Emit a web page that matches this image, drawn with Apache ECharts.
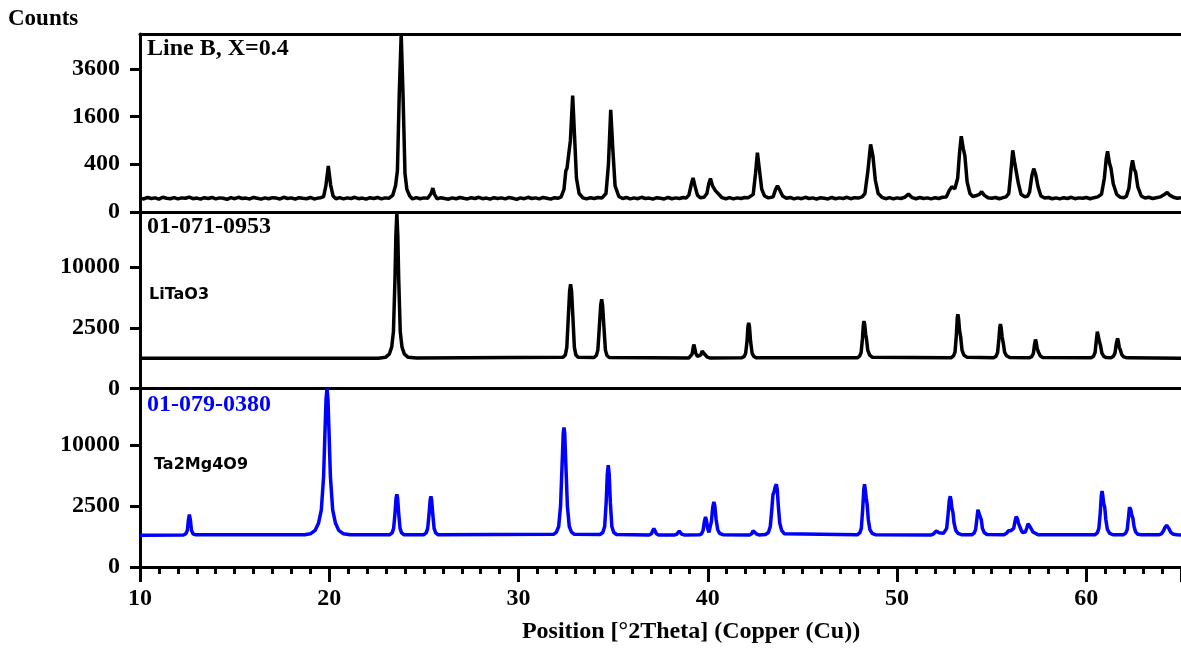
<!DOCTYPE html>
<html>
<head>
<meta charset="utf-8">
<title>XRD pattern – Line B, X=0.4</title>
<script src="https://cdn.jsdelivr.net/npm/echarts@6/dist/echarts.min.js"></script>
<style>
  html, body { margin: 0; padding: 0; background: #fff; }
  #chart { width: 1181px; height: 648px; }
</style>
</head>
<body>
<div id="chart"></div>
<script>
// Measured scan, [2theta, counts]
const measuredScan = [
  [10.0,34],[10.2,30],[10.4,37],[10.6,32],[10.8,35],[11.0,29],[11.2,38],[11.4,33],[11.6,31],[11.8,36],
  [12.0,30],[12.2,35],[12.4,33],[12.6,39],[12.8,31],[13.0,34],[13.2,29],[13.4,36],[13.6,32],[13.8,37],
  [14.0,30],[14.2,35],[14.4,33],[14.6,28],[14.8,36],[15.0,31],[15.2,38],[15.4,32],[15.6,34],[15.8,30],
  [16.0,37],[16.2,33],[16.4,29],[16.6,35],[16.8,31],[17.0,36],[17.2,34],[17.4,30],[17.6,38],[17.8,32],
  [18.0,35],[18.2,29],[18.4,36],[18.6,33],[18.8,31],[19.0,37],[19.2,30],[19.4,34],[19.55,36],
  [19.7,42],[19.82,120],[19.95,372],[20.07,130],[20.2,45],
  [20.35,31],[20.55,36],[20.75,30],[20.95,35],[21.15,32],[21.35,38],[21.55,31],[21.75,34],[21.95,29],[22.15,36],
  [22.35,32],[22.55,37],[22.75,30],[22.95,35],[23.15,33],
  [23.35,48],[23.5,120],[23.6,300],[23.7,2500],[23.8,5560],[23.9,2300],[24.0,260],[24.1,90],[24.25,45],
  [24.4,30],[24.6,36],[24.8,31],[25.0,35],[25.2,33],
  [25.38,60],[25.47,100],[25.56,55],
  [25.7,30],[25.9,36],[26.1,32],[26.3,29],[26.5,35],[26.7,31],[26.9,37],[27.1,33],[27.3,30],[27.5,36],
  [27.7,32],[27.9,38],[28.1,31],[28.3,34],[28.5,29],[28.7,36],[28.9,32],[29.1,35],[29.3,30],[29.5,37],
  [29.7,33],[29.9,28],[30.1,35],[30.3,31],[30.5,38],[30.7,32],[30.9,35],[31.1,30],[31.3,37],[31.5,33],
  [31.7,29],[31.9,36],[32.1,33],[32.25,40],
  [32.4,90],[32.5,300],[32.56,336],[32.64,340],[32.74,900],[32.86,2377],[32.96,1000],[33.06,200],[33.2,60],
  [33.4,35],[33.6,30],[33.8,36],[34.0,32],[34.2,37],[34.4,34],
  [34.62,60],[34.75,400],[34.87,1831],[34.98,700],[35.1,120],[35.3,42],
  [35.5,32],[35.7,37],[35.9,30],[36.1,35],[36.3,31],[36.5,38],[36.7,32],[36.9,34],[37.1,29],[37.3,36],
  [37.5,33],[37.7,30],[37.9,37],[38.1,31],[38.3,35],[38.5,32],[38.7,37],[38.85,34],
  [39.0,50],[39.12,130],[39.22,204],[39.32,120],[39.45,50],[39.6,36],[39.8,38],[39.95,60],
  [40.05,140],[40.14,197],[40.25,120],[40.4,80],[40.47,84],[40.58,55],[40.75,36],
  [40.95,31],[41.15,36],[41.35,30],[41.55,35],[41.75,32],[41.95,37],[42.15,36],
  [42.4,55],[42.52,260],[42.62,619],[42.72,330],[42.85,90],[43.0,45],[43.2,35],[43.45,40],
  [43.58,90],[43.68,120],[43.8,85],[43.95,45],
  [44.15,33],[44.35,37],[44.55,30],[44.75,35],[44.95,31],[45.15,38],[45.35,32],[45.55,35],[45.75,29],[45.95,36],
  [46.15,33],[46.35,30],[46.55,37],[46.75,31],[46.95,35],[47.15,32],[47.35,38],[47.55,31],[47.75,36],[47.95,34],
  [48.15,40],
  [48.3,60],[48.45,280],[48.6,803],[48.72,560],[48.85,180],[49.0,60],[49.2,38],
  [49.4,31],[49.6,36],[49.8,30],[50.0,35],[50.2,32],[50.4,38],[50.6,56],[50.8,36],[51.0,31],[51.2,37],
  [51.4,32],[51.6,35],[51.8,30],[52.0,36],[52.2,32],[52.4,38],[52.6,40],
  [52.75,80],[52.89,111],[53.05,95],
  [53.2,200],[53.3,620],[53.39,1010],[53.5,700],[53.58,560],[53.7,160],[53.85,60],
  [54.0,42],[54.15,46],[54.35,55],[54.47,72],[54.6,50],[54.8,36],
  [55.0,33],[55.2,37],[55.4,31],[55.6,36],[55.75,40],
  [55.9,60],[56.0,250],[56.11,667],[56.2,450],[56.28,417],[56.4,150],[56.55,55],[56.75,40],[56.9,45],
  [57.0,70],[57.12,230],[57.22,331],[57.32,250],[57.45,110],[57.6,45],[57.8,34],
  [58.0,37],[58.2,31],[58.4,35],[58.6,30],[58.8,36],[59.0,32],[59.2,38],[59.4,31],[59.6,35],[59.8,33],
  [60.0,37],[60.2,31],[60.4,36],[60.6,40],
  [60.8,55],[60.95,200],[61.05,500],[61.12,646],[61.22,420],[61.3,336],[61.42,140],[61.6,55],[61.8,38],[62.0,36],
  [62.12,45],[62.25,100],[62.36,330],[62.44,469],[62.53,320],[62.6,282],[62.72,110],[62.9,45],
  [63.1,34],[63.3,38],[63.5,32],[63.7,36],[63.9,40],
  [64.1,52],[64.27,67],[64.4,50],[64.6,38],[64.8,33],[65.0,36]
];

// Reference pattern 01-071-0953 (LiTaO3), [2theta, counts]
const litao3Pattern = [
  [10.0,620],[22.6,625],[22.97,660],[23.17,800],[23.3,1180],[23.39,2200],[23.47,8000],[23.52,16000],[23.57,20900],
  [23.62,16000],[23.67,8000],[23.75,2200],[23.84,1180],[23.97,800],[24.17,660],[24.6,630],
  [32.35,660],[32.47,760],[32.55,1150],[32.63,3500],[32.7,6500],[32.75,7390],[32.8,6500],[32.87,3500],[32.95,1150],[33.03,760],[33.15,660],
  [33.99,655],[34.11,740],[34.19,1000],[34.27,2600],[34.34,4700],[34.39,5420],[34.44,4700],[34.51,2600],[34.59,1000],[34.67,740],[34.79,655],
  [39.0,635],[39.1,680],[39.17,800],[39.22,1100],[39.26,1316],[39.3,1150],[39.37,830],[39.45,700],[39.55,690],
  [39.63,770],[39.7,950],[39.75,1034],[39.8,930],[39.87,760],[39.97,670],[40.1,635],
  [41.8,640],[41.92,700],[42.0,850],[42.07,1500],[42.12,2600],[42.16,2920],[42.2,2600],[42.26,1500],[42.34,850],[42.42,710],[42.55,645],
  [47.9,640],[48.02,710],[48.1,880],[48.17,1700],[48.22,2800],[48.25,3080],[48.29,2800],[48.34,2000],[48.39,1600],[48.45,1000],[48.55,760],[48.7,660],
  [52.85,640],[52.98,720],[53.06,900],[53.13,1900],[53.18,3400],[53.21,3750],[53.25,3300],[53.3,2300],[53.36,1800],[53.43,1000],[53.53,760],[53.7,660],
  [55.1,640],[55.23,710],[55.31,880],[55.38,1700],[55.43,2600],[55.46,2810],[55.5,2500],[55.55,1800],[55.61,1400],[55.68,900],[55.78,730],[55.95,650],
  [57.0,640],[57.12,700],[57.2,830],[57.26,1300],[57.31,1630],[57.35,1450],[57.41,1050],[57.48,880],[57.56,730],[57.7,650],
  [60.25,640],[60.38,710],[60.46,880],[60.53,1600],[60.58,2200],[60.6,2310],[60.64,2050],[60.69,1500],[60.75,1250],[60.82,850],[60.92,700],[61.05,650],
  [61.3,645],[61.43,710],[61.51,850],[61.58,1350],[61.65,1700],[61.69,1500],[61.74,1150],[61.8,1000],[61.87,780],[61.97,680],[62.15,640],
  [65.0,620]
];

// Reference pattern 01-079-0380 (Ta2Mg4O9), [2theta, counts]
const ta2mg4o9Pattern = [
  [10.0,680],[12.3,690],[12.42,740],[12.5,900],[12.56,1500],[12.61,1845],[12.66,1500],[12.72,900],[12.8,740],[12.95,695],
  [18.7,695],[19.0,740],[19.25,900],[19.43,1280],[19.58,2200],[19.7,5500],[19.78,13000],[19.83,19000],[19.88,21400],
  [19.93,19000],[19.98,13000],[20.06,5500],[20.18,2200],[20.33,1280],[20.5,900],[20.75,740],[21.1,695],
  [23.2,700],[23.32,780],[23.4,1000],[23.47,1900],[23.53,3200],[23.57,3550],[23.61,3200],[23.67,1900],[23.74,1000],[23.82,780],[23.95,700],
  [25.0,700],[25.12,780],[25.2,1000],[25.27,1850],[25.33,3000],[25.37,3360],[25.41,3000],[25.47,1850],[25.54,1000],[25.62,780],[25.75,700],
  [31.85,720],[32.0,820],[32.12,1100],[32.22,2500],[32.3,7000],[32.36,12000],[32.4,13060],[32.44,12000],[32.5,7000],[32.58,2500],[32.68,1100],[32.8,820],[32.95,720],
  [34.3,710],[34.45,800],[34.55,1100],[34.63,2800],[34.69,5800],[34.74,6950],[34.79,5800],[34.85,2800],[34.93,1100],[35.03,800],[35.18,710],
  [36.9,690],[37.02,740],[37.09,880],[37.15,990],[37.21,880],[37.28,740],[37.4,690],
  [38.25,690],[38.37,730],[38.44,820],[38.49,870],[38.54,820],[38.61,730],[38.75,690],
  [39.55,695],[39.67,740],[39.75,900],[39.82,1400],[39.88,1680],[39.93,1450],[39.99,1000],[40.06,800],[40.12,850],
  [40.19,1400],[40.26,2400],[40.32,2840],[40.37,2500],[40.44,1500],[40.52,950],[40.62,760],[40.8,700],
  [42.2,690],[42.32,740],[42.39,880],[42.44,955],[42.49,880],[42.56,740],[42.7,690],
  [43.05,710],[43.2,800],[43.3,1100],[43.38,2200],[43.44,3500],[43.5,3800],[43.56,4300],[43.62,4600],[43.67,4000],[43.73,2400],[43.8,1300],[43.9,900],[44.05,740],
  [47.9,700],[48.03,780],[48.11,1000],[48.18,2200],[48.24,4000],[48.28,4600],[48.32,4000],[48.37,3200],[48.42,2600],[48.48,1500],[48.56,950],[48.68,760],[48.85,700],
  [51.8,690],[51.93,740],[52.0,830],[52.07,870],[52.14,830],[52.22,790],[52.32,760],
  [52.45,760],[52.55,820],[52.62,1000],[52.69,1800],[52.76,3000],[52.81,3360],[52.85,3000],[52.9,2300],[52.95,2000],[53.01,1300],[53.1,900],[53.22,760],[53.4,700],
  [53.95,700],[54.07,770],[54.15,950],[54.22,1600],[54.27,2200],[54.3,2340],[54.34,2100],[54.39,1700],[54.45,1500],[54.51,1000],[54.6,800],[54.75,710],
  [55.65,700],[55.8,780],[55.88,880],[55.94,905],[56.0,880],[56.08,870],[56.16,1000],[56.23,1400],[56.29,1700],[56.32,1730],
  [56.36,1550],[56.41,1300],[56.47,1200],[56.54,950],[56.62,800],[56.7,760],[56.78,820],[56.86,1050],[56.92,1250],[56.96,1300],
  [57.0,1200],[57.05,1050],[57.11,980],[57.18,820],[57.28,730],[57.45,695],
  [60.45,700],[60.58,780],[60.66,1000],[60.73,1900],[60.79,3400],[60.83,3880],[60.87,3400],[60.92,2700],[60.97,2400],[61.03,1500],[61.11,950],[61.22,770],[61.4,700],
  [61.95,700],[62.08,770],[62.16,950],[62.23,1700],[62.28,2400],[62.31,2560],[62.35,2200],[62.4,1800],[62.46,1600],[62.52,1100],[62.6,830],[62.72,720],[62.9,695],
  [63.85,700],[63.98,750],[64.07,870],[64.15,1050],[64.24,1170],[64.3,1120],[64.36,1000],[64.45,820],[64.6,720],[64.8,695],[65.0,690]
];

// Tick labels (counts) of each panel's square-root axis
const measuredTicks = [0, 400, 1600, 3600];
const litao3Ticks = [0, 2500, 10000];
const ta2mg4o9Ticks = [0, 2500, 10000];
const thetaTicks = [10, 20, 30, 40, 50, 60];

// Upper limits (counts) of the panels
const measuredMax = 5565;
const litao3Max = 21170;
const ta2mg4o9Max = 21400;

const SERIF = '"Liberation Serif", "Times New Roman", serif';
const SANS = '"DejaVu Sans", Verdana, sans-serif';
const BLACK = '#000000';
const BLUE = '#0000ff';

// Panels use a square-root intensity scale: plot sqrt(counts), label with counts
const toRoot = pts => pts.map(p => [p[0], Math.sqrt(p[1])]);
const rootTicks = ticks => ticks.map(v => Math.sqrt(v));

const chart = echarts.init(document.getElementById('chart'), null, { renderer: 'canvas' });

const axisLineStyle = { lineStyle: { color: BLACK, width: 3 } };

function yAxis(gridIndex, ticks, max) {
  const vals = rootTicks(ticks);
  return {
    type: 'value', gridIndex, min: 0, max: Math.sqrt(max),
    axisLine: { show: true, ...axisLineStyle },
    axisTick: { show: true, length: 10, customValues: vals, lineStyle: { color: BLACK, width: 3 } },
    axisLabel: {
      customValues: vals, margin: 20,
      formatter: v => String(Math.round(v * v)),
      color: BLACK, fontFamily: SERIF, fontWeight: 'bold', fontSize: 24
    },
    splitLine: { show: false }
  };
}

function plainX(gridIndex, position) {
  return {
    type: 'value', gridIndex, min: 10, max: 65, position,
    axisLine: { show: true, onZero: false, ...axisLineStyle },
    axisTick: { show: false }, axisLabel: { show: false }, splitLine: { show: false }
  };
}

const option = {
  animation: false,
  backgroundColor: '#ffffff',
  grid: [
    { left: 140, width: 1042, top: 34, height: 178 },
    { left: 140, width: 1042, top: 212, height: 176.5 },
    { left: 140, width: 1042, top: 388.5, height: 178.5 }
  ],
  xAxis: [
    plainX(0, 'bottom'),
    plainX(1, 'bottom'),
    {
      type: 'value', gridIndex: 2, min: 10, max: 65, interval: 10,
      axisLine: { show: true, onZero: false, ...axisLineStyle },
      axisTick: { show: true, length: 15, lineStyle: { color: BLACK, width: 3 } },
      minorTick: { show: true, splitNumber: 10, length: 7, lineStyle: { color: BLACK, width: 3 } },
      axisLabel: {
        customValues: thetaTicks, margin: 20,
        color: BLACK, fontFamily: SERIF, fontWeight: 'bold', fontSize: 24
      },
      splitLine: { show: false }, minorSplitLine: { show: false }
    },
    plainX(0, 'top')
  ],
  yAxis: [
    yAxis(0, measuredTicks, measuredMax),
    yAxis(1, litao3Ticks, litao3Max),
    yAxis(2, ta2mg4o9Ticks, ta2mg4o9Max)
  ],
  series: [
    {
      name: 'Line B, X=0.4', type: 'line', xAxisIndex: 0, yAxisIndex: 0,
      data: toRoot(measuredScan), showSymbol: false,
      lineStyle: { color: BLACK, width: 3.5 }
    },
    {
      name: '01-071-0953', type: 'line', xAxisIndex: 1, yAxisIndex: 1,
      data: toRoot(litao3Pattern), showSymbol: false,
      lineStyle: { color: BLACK, width: 3.5 }
    },
    {
      name: '01-079-0380', type: 'line', xAxisIndex: 2, yAxisIndex: 2,
      data: toRoot(ta2mg4o9Pattern), showSymbol: false,
      lineStyle: { color: BLUE, width: 3.5 }
    }
  ],
  graphic: [
    { type: 'text', style: { x: 8, y: 19, text: 'Counts', font: 'bold 23px ' + SERIF, fill: BLACK, verticalAlign: 'middle' } },
    { type: 'text', style: { x: 147, y: 49, text: 'Line B, X=0.4', font: 'bold 24px ' + SERIF, fill: BLACK, verticalAlign: 'middle' } },
    { type: 'text', style: { x: 147, y: 227, text: '01-071-0953', font: 'bold 24px ' + SERIF, fill: BLACK, verticalAlign: 'middle' } },
    { type: 'text', style: { x: 149, y: 295, text: 'LiTaO3', font: 'bold 16px ' + SANS, fill: BLACK, verticalAlign: 'middle' } },
    { type: 'text', style: { x: 147, y: 405, text: '01-079-0380', font: 'bold 24px ' + SERIF, fill: BLUE, verticalAlign: 'middle' } },
    { type: 'text', style: { x: 154, y: 465, text: 'Ta2Mg4O9', font: 'bold 16px ' + SANS, fill: BLACK, verticalAlign: 'middle' } },
    { type: 'text', style: { x: 691, y: 632, text: 'Position [°2Theta] (Copper (Cu))', font: 'bold 24px ' + SERIF, fill: BLACK, align: 'center', verticalAlign: 'middle' } }
  ]
};

chart.setOption(option);
</script>
</body>
</html>
